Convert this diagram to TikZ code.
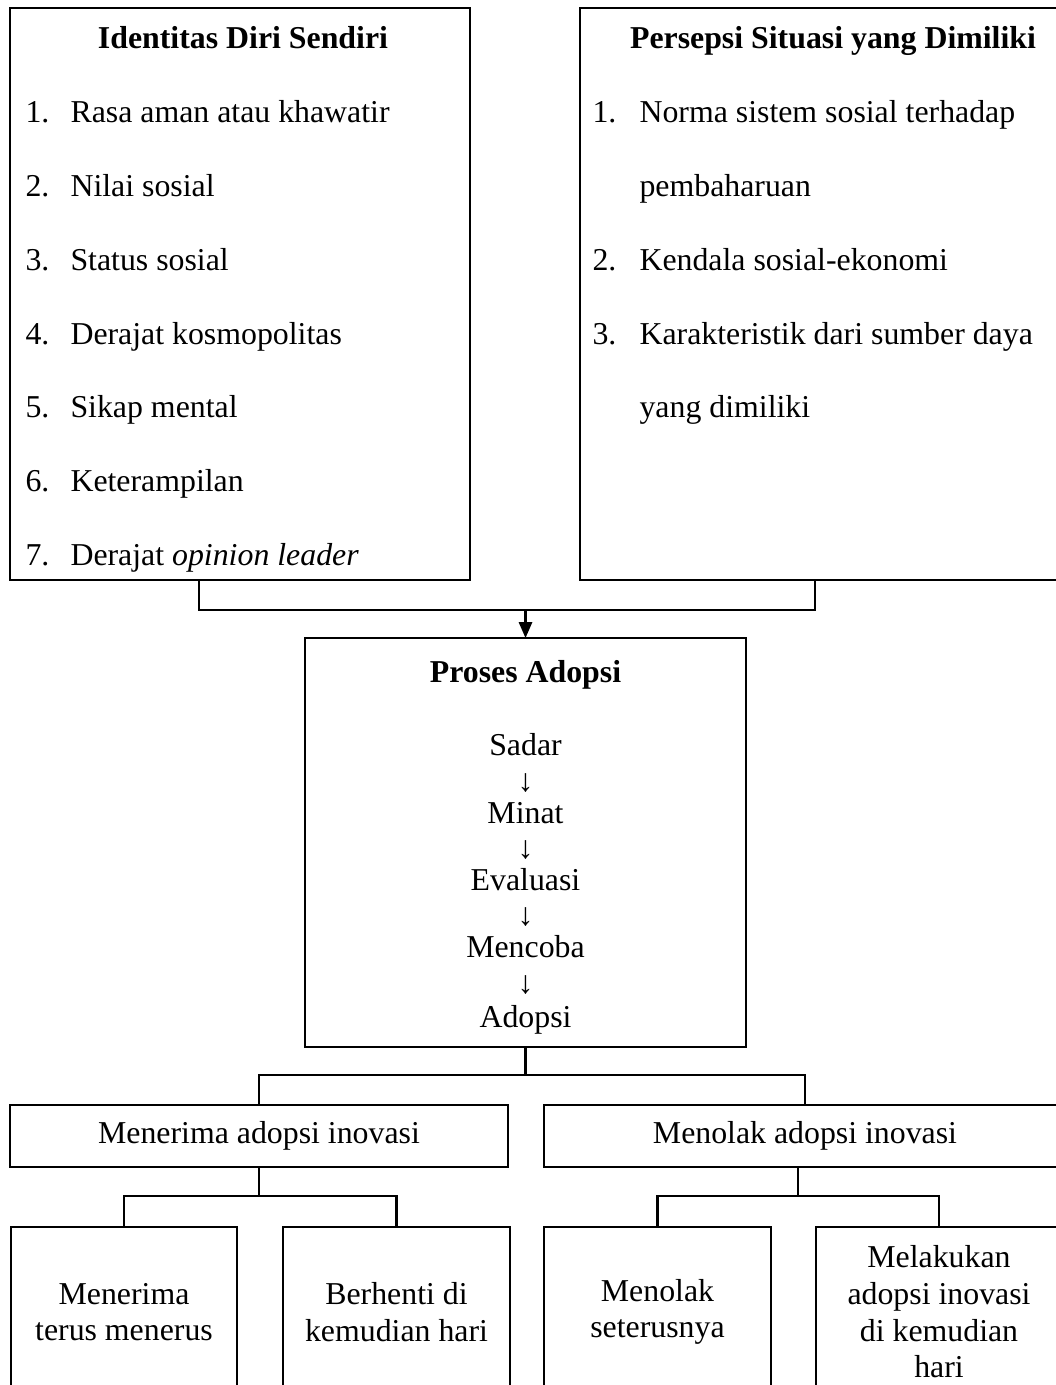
\documentclass[tikz,border=0pt]{standalone}
\usepackage{fontspec}
\setmainfont{Liberation Serif}
\usetikzlibrary{arrows.meta, calc}
\newcommand{\pxu}{0.377pt}

\begin{document}
\begin{tikzpicture}[
  x=0.377pt, y=-0.377pt,
  font=\fontsize{12pt}{13.8pt}\selectfont,
  >={Triangle[length=6pt, width=5pt]},
  box/.style={rectangle, draw, line width=1pt, inner sep=0pt, outer sep=0pt,
              anchor=north west, align=center},
  tallbox/.style={box, minimum height=572*\pxu},
  midbox/.style={box, minimum height=62*\pxu},
  leafbox/.style={box, minimum height=170*\pxu},
  head/.style={font=\fontsize{12pt}{13.8pt}\selectfont\bfseries, anchor=base, inner sep=0pt},
  item/.style={anchor=base west, inner sep=0pt},
  stage/.style={anchor=base, inner sep=0pt},
  link/.style={line width=0.8pt},
]
\useasboundingbox (0,0) rectangle (1056,1385);
\clip (0,0) rectangle (1056,1385);

% top boxes
\node[tallbox, minimum width=460*\pxu] (idn) at (10,8) {};
\node[tallbox, minimum width=506*\pxu] (psp) at (580,8) {};

\node[head] (idnHead) at (243,49) {Identitas Diri Sendiri};
\foreach \n/\t [count=\k] in {1./Rasa aman atau khawatir, 2./Nilai sosial,
    3./Status sosial, 4./Derajat kosmopolitas, 5./Sikap mental,
    6./Keterampilan, 7./{Derajat \textit{opinion leader}}} {
  \node[item] (idnNum\k) at (25,{49.3+73.7*\k}) {\n};
  \node[item] (idnTxt\k) at (70,{49.3+73.7*\k}) {\t};
}

\node[head] (pspHead) at (833,49) {Persepsi Situasi yang Dimiliki};
\foreach \n/\t [count=\k] in {1./Norma sistem sosial terhadap, /pembaharuan,
    2./Kendala sosial-ekonomi, 3./Karakteristik dari sumber daya,
    /yang dimiliki} {
  \node[item] (pspNum\k) at (592,{49.3+73.7*\k}) {\n};
  \node[item] (pspTxt\k) at (639,{49.3+73.7*\k}) {\t};
}

% adoption process
\node[box, minimum width=441*\pxu, minimum height=409*\pxu] (prs) at (305,638) {};
\node[head] (prsHead) at (525.5,682) {Proses Adopsi};
\foreach \s/\yb [count=\k] in {Sadar/755, Minat/823, Evaluasi/890,
    Mencoba/957, Adopsi/1027} {
  \node[stage] (stg\k) at (525.5,\yb) {\s};
}
\foreach \ya [count=\k] in {783,850,917,985} {
  \node[inner sep=0pt] (dn\k) at (525.5,\ya) {↓};
}

% outcomes
\node[midbox, minimum width=498*\pxu] (acc) at (10,1105) {Menerima adopsi inovasi};
\node[midbox, minimum width=522*\pxu] (rej) at (544,1105) {Menolak adopsi inovasi};

\node[leafbox, minimum width=226*\pxu] (acc1) at (11,1227) {Menerima\\terus menerus};
\node[leafbox, minimum width=227*\pxu] (acc2) at (283,1227) {Berhenti di\\kemudian hari};
\node[leafbox, minimum width=227*\pxu] (rej1) at (544,1227) {Menolak\\seterusnya};
\node[leafbox, minimum width=246*\pxu] (rej2) at (816,1227)
  {Melakukan\\adopsi inovasi\\di kemudian\\hari};

% connectors
\coordinate (jTop) at ($(prs.north)+(0,-28)$);
\draw[link] ($(idn.south west)!.41!(idn.south east)$) |- (jTop)
  -| ($(psp.south west)!.464!(psp.south east)$);
\draw[link, ->] (jTop) -- (prs.north);

\coordinate (jMid) at ($(prs.south)+(0,28)$);
\draw[link] (prs.south) -- (jMid);
\draw[link] (acc.north) |- (jMid) -| (rej.north);

\coordinate (jAcc) at ($(acc1.north)!.5!(acc2.north)+(0,-31)$);
\draw[link] (acc.south) -- (acc.south |- jAcc);
\draw[link] (acc1.north) |- (jAcc) -| (acc2.north);

\coordinate (jRej) at ($(rej1.north)!.5!(rej2.north)+(0,-31)$);
\draw[link] (rej.south -| jRej) -- (jRej);
\draw[link] (rej1.north) |- (jRej) -| (rej2.north);

\end{tikzpicture}
\end{document}
